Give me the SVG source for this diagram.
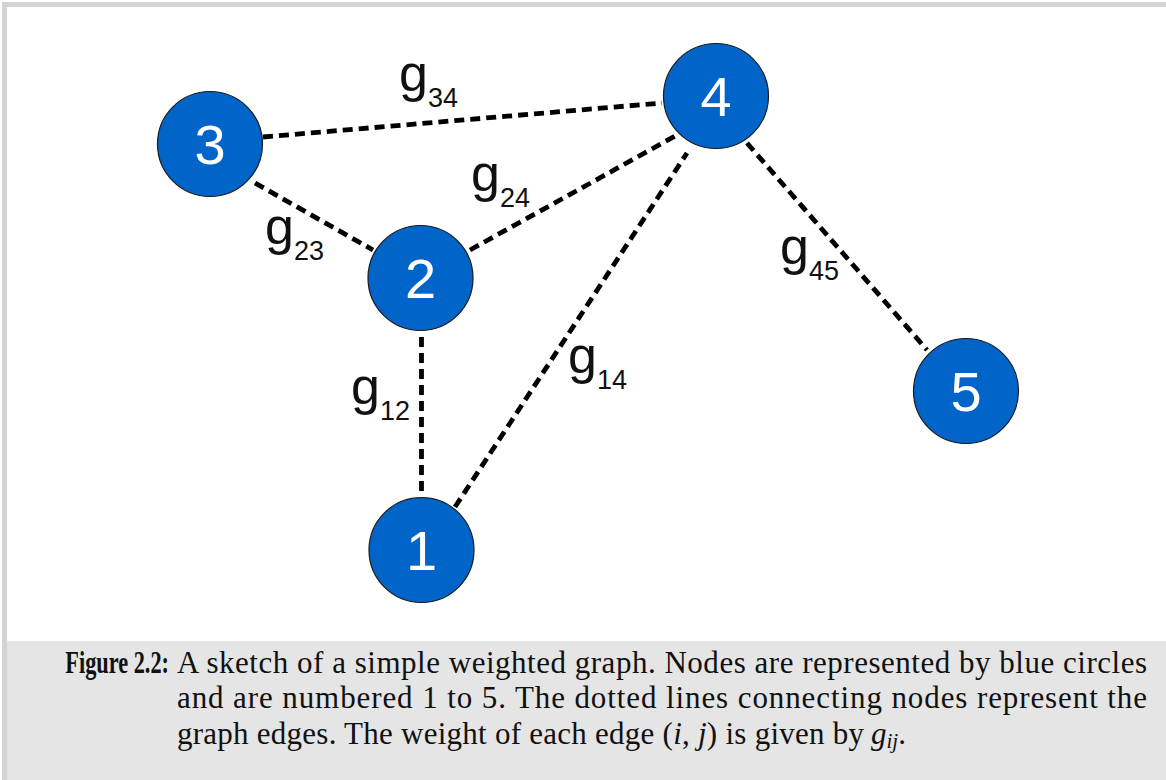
<svg xmlns="http://www.w3.org/2000/svg" width="1166" height="780" viewBox="0 0 1166 780">
  <style>
    .node { fill: #0064c8; stroke: #1a1a1a; stroke-width: 1.2; }
    .num { font-family: "Liberation Sans", Arial, sans-serif; font-size: 56px; fill: #ffffff; text-anchor: middle; }
    .edge { stroke: #000000; stroke-width: 4.8; stroke-dasharray: 10 6; fill: none; }
    .lbl { font-family: "Liberation Sans", Arial, sans-serif; font-size: 52px; fill: #111111; }
    .sub { font-size: 27px; }
    .cap { font-family: "Liberation Serif", "Times New Roman", serif; font-size: 31px; fill: #111111; }
  </style>
  <rect x="0" y="0" width="1166" height="780" fill="#ffffff"/>
  <g id="frame">
    <rect x="7" y="641" width="1159" height="139" fill="#e5e5e5"/>
    <line x1="2" y1="4.5" x2="1166" y2="4.5" stroke="#d3d3d3" stroke-width="5"/>
    <line x1="4.5" y1="2" x2="4.5" y2="780" stroke="#d3d3d3" stroke-width="5"/>
  </g>
  <g id="edges">
    <line class="edge" x1="263" y1="137" x2="662" y2="103"/>
    <line class="edge" x1="255" y1="183" x2="373" y2="250"/>
    <line class="edge" x1="470" y1="250" x2="677" y2="135"/>
    <line class="edge" x1="421.5" y1="337" x2="421.5" y2="497"/>
    <line class="edge" x1="455" y1="507" x2="687" y2="153"/>
    <line class="edge" x1="747" y1="143" x2="927" y2="350"/>
  </g>
  <g id="labels">
    <text class="lbl" x="399" y="91">g<tspan class="sub" dy="16">34</tspan></text>
    <text class="lbl" x="471" y="191">g<tspan class="sub" dy="16">24</tspan></text>
    <text class="lbl" x="265" y="244">g<tspan class="sub" dy="16">23</tspan></text>
    <text class="lbl" x="351" y="404">g<tspan class="sub" dy="16">12</tspan></text>
    <text class="lbl" x="568" y="373">g<tspan class="sub" dy="16">14</tspan></text>
    <text class="lbl" x="780" y="264">g<tspan class="sub" dy="16">45</tspan></text>
  </g>
  <g id="node1">
    <circle class="node" cx="421.5" cy="550" r="52.5"/>
    <text class="num" x="421.5" y="570">1</text>
  </g>
  <g id="node2">
    <circle class="node" cx="420.5" cy="278" r="52.5"/>
    <text class="num" x="420.5" y="298">2</text>
  </g>
  <g id="node3">
    <circle class="node" cx="210" cy="144" r="52.5"/>
    <text class="num" x="210" y="164">3</text>
  </g>
  <g id="node4">
    <circle class="node" cx="716" cy="96" r="52.5"/>
    <text class="num" x="716" y="116">4</text>
  </g>
  <g id="node5">
    <circle class="node" cx="966" cy="391" r="52.5"/>
    <text class="num" x="966" y="411">5</text>
  </g>
  <g id="caption">
    <text class="cap" transform="translate(169,673) scale(0.72,1)" x="0" y="0" text-anchor="end" font-weight="bold" font-size="27px">Figure 2.2:</text>
    <text class="cap" x="177" y="673" textLength="970" lengthAdjust="spacing">A sketch of a simple weighted graph. Nodes are represented by blue circles</text>
    <text class="cap" x="177" y="708" textLength="970" lengthAdjust="spacing">and are numbered 1 to 5. The dotted lines connecting nodes represent the</text>
    <text class="cap" x="177" y="744" textLength="687" lengthAdjust="spacing">graph edges. The weight of each edge (<tspan font-style="italic">i</tspan>, <tspan font-style="italic">j</tspan>) is given by</text>
    <text class="cap" x="871" y="744"><tspan font-style="italic">g</tspan><tspan font-style="italic" font-size="21px" dy="4">ij</tspan><tspan dy="-4">.</tspan></text>
  </g>
</svg>
